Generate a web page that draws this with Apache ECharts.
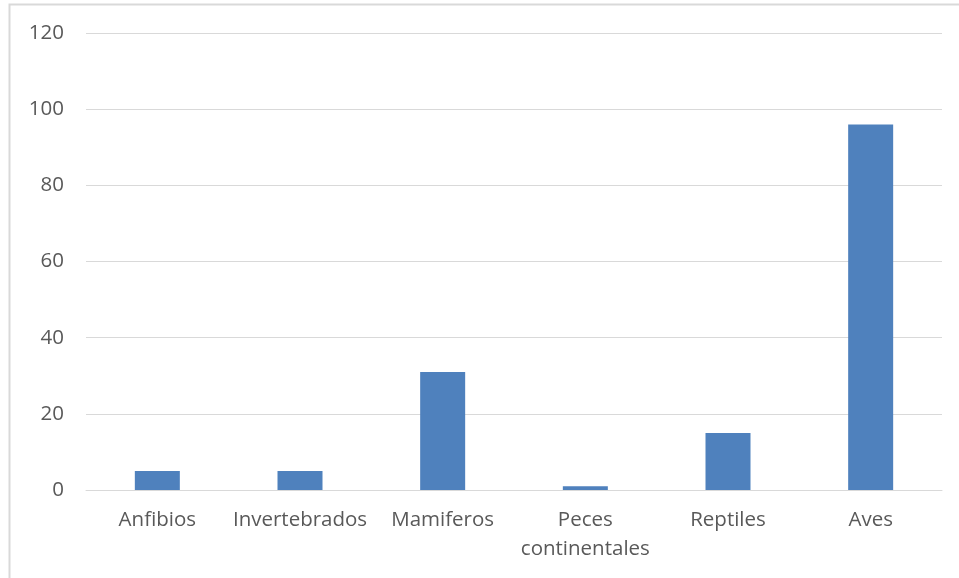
<!DOCTYPE html>
<html><head><meta charset="utf-8">
<script src="https://cdn.jsdelivr.net/npm/echarts@6/dist/echarts.min.js"></script>
<style>html,body{margin:0;padding:0;background:#fff}#c{width:959px;height:578px}</style>
</head><body><div id="c"></div>
<script>
const categories = ['Anfibios', 'Invertebrados', 'Mamiferos', 'Peces\ncontinentales', 'Reptiles', 'Aves'];
const values = [5, 5, 31, 1, 15, 96];
const yTicks = { min: 0, max: 120, interval: 20 };

const chart = echarts.init(document.getElementById('c'), null, { renderer: 'canvas' });
chart.setOption({
  animation: false,
  backgroundColor: '#ffffff',
  graphic: [{
    type: 'rect', silent: true, z: -1,
    shape: { x: 9.5, y: 4.5, width: 1100, height: 1100 },
    style: { fill: 'none', stroke: '#d9d9d9', lineWidth: 2 }
  }],
  grid: { left: 86, right: 17, top: 33, bottom: 88, containLabel: false },
  xAxis: {
    type: 'category', data: categories,
    axisLine: { show: true, lineStyle: { color: '#d9d9d9', width: 1 } },
    axisTick: { show: false },
    axisLabel: { color: '#595959', fontFamily: 'Open Sans', fontSize: 20.5, margin: 16, lineHeight: 29, interval: 0 }
  },
  yAxis: {
    type: 'value', min: yTicks.min, max: yTicks.max, interval: yTicks.interval,
    axisLine: { show: false }, axisTick: { show: false },
    splitLine: { lineStyle: { color: '#d9d9d9', width: 1 } },
    axisLabel: { color: '#595959', fontFamily: 'Open Sans', fontSize: 20.5, margin: 22 }
  },
  series: [{
    type: 'bar', data: values, barWidth: 45,
    itemStyle: { color: '#4f81bd' }
  }]
});
</script></body></html>
